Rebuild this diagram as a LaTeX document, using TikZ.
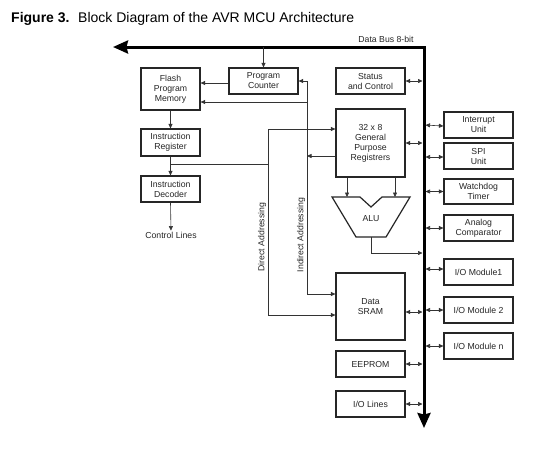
\documentclass[tikz,border=0pt]{standalone}
\usepackage{fontspec}
\setmainfont{Liberation Sans}
\usetikzlibrary{arrows.meta}
\begin{document}
\begin{tikzpicture}[x=1pt,y=-1pt,
 blk/.style={draw=black!85, line width=1.2pt, align=center, font=\fontsize{8.7}{10}\selectfont, inner sep=0pt, text=black!85},
 arr/.style={line width=0.6pt, draw=black!80, -{Triangle[length=4.5pt,width=4pt]}},
 bidir/.style={line width=0.6pt, draw=black!80, {Triangle[length=4.5pt,width=4pt]}-{Triangle[length=4.5pt,width=4pt]}},
 wire/.style={line width=0.6pt, draw=black!80},
 lbl/.style={font=\fontsize{8.7}{10}\selectfont, inner sep=0pt, text=black!85},
 busline/.style={line width=3pt, {Stealth[length=15pt,width=13pt,inset=1.5pt]}-{Stealth[length=15pt,width=13pt,inset=1.5pt]}}]
\useasboundingbox (0,0) rectangle (540,448);
\fill[white] (0,0) rectangle (540,448);

% title
\node[anchor=base west, inner sep=0pt, font=\fontsize{14}{16}\selectfont\bfseries] (fig) at (11,22) {Figure 3.};
\node[anchor=base west, inner sep=0pt, font=\fontsize{14}{16}\selectfont] (ttl) at (78,22) {Block Diagram of the AVR MCU Architecture};

% bus
\coordinate (busL) at (113,47);
\coordinate (busC) at (424,47);
\coordinate (busB) at (424,428);
\draw[busline] (busL) -- (busC) -- (busB);
\node[lbl] (buslbl) at (386,39) {Data Bus 8-bit};

% blocks
\node[blk, minimum width=59pt, minimum height=42pt] (flash) at (170.5,89) {Flash\\Program\\Memory};
\node[blk, minimum width=69pt, minimum height=26pt] (pc) at (263.5,81) {Program\\Counter};
\node[blk, minimum width=69pt, minimum height=26pt] (status) at (370.5,81) {Status\\and Control};
\node[blk, minimum width=69pt, minimum height=68pt] (regs) at (370.5,143) {32 x 8\\General\\Purpose\\Registrers};
\node[blk, minimum width=59pt, minimum height=27pt] (ir) at (170.5,142.5) {Instruction\\Register};
\node[blk, minimum width=59pt, minimum height=26pt] (dec) at (170.5,189) {Instruction\\Decoder};
\node[lbl] (ctl) at (171,235) {Control Lines};

\node[blk, minimum width=69pt, minimum height=26pt] (int) at (478.5,125) {Interrupt\\Unit};
\node[blk, minimum width=69pt, minimum height=26pt] (spi) at (478.5,156) {SPI\\Unit};
\node[blk, minimum width=69pt, minimum height=25pt] (wdt) at (478.5,191.5) {Watchdog\\Timer};
\node[blk, minimum width=69pt, minimum height=26pt] (ana) at (478.5,228) {Analog\\Comparator};
\node[blk, minimum width=69pt, minimum height=26pt] (io1) at (478.5,272) {I/O Module1};
\node[blk, minimum width=69pt, minimum height=26pt] (io2) at (478.5,310) {I/O Module 2};
\node[blk, minimum width=69pt, minimum height=26pt] (ion) at (478.5,346) {I/O Module n};

\node[blk, minimum width=69pt, minimum height=67pt] (sram) at (370.5,306.5) {Data\\SRAM};
\node[blk, minimum width=69pt, minimum height=26pt] (eeprom) at (370.5,364) {EEPROM};
\node[blk, minimum width=69pt, minimum height=26pt] (iol) at (370.5,404) {I/O Lines};

% ALU
\draw[line width=1.2pt, draw=black!85, line join=miter] (332,197) -- (360,197) -- (371,207) -- (382,197) -- (410,197) -- (386,237) -- (356,237) -- cycle;
\node[lbl] (alu) at (371,219) {ALU};

% bus connections
\draw[arr] (pc.north |- busC) -- (pc.north);
\draw[bidir, shorten >=1.5pt] (status.east) -- (status.east -| busC);
\draw[bidir, shorten >=1.5pt] (regs.east) -- (regs.east -| busC);
\draw[bidir, shorten >=1.5pt] ([yshift=-5.5pt]sram.east) -- ([yshift=-5.5pt]sram.east -| busC);
\draw[bidir, shorten >=1.5pt] (eeprom.east) -- (eeprom.east -| busC);
\draw[bidir, shorten >=1.5pt] (iol.east) -- (iol.east -| busC);
\draw[bidir, shorten <=1.5pt] (int.west -| busC) -- ([yshift=-1pt]int.west);
\draw[bidir, shorten <=1.5pt] ([yshift=-1pt]spi.west -| busC) -- ([yshift=-1pt]spi.west);
\draw[bidir, shorten <=1.5pt] (wdt.west -| busC) -- (wdt.west);
\draw[bidir, shorten <=1.5pt] (ana.west -| busC) -- (ana.west);
\draw[bidir, shorten <=1.5pt] ([yshift=3pt]io1.west -| busC) -- ([yshift=3pt]io1.west);
\draw[bidir, shorten <=1.5pt] (io2.west -| busC) -- (io2.west);
\draw[bidir, shorten <=1.5pt] (ion.west -| busC) -- (ion.west);

% program flow
\draw[arr] ([yshift=-2pt]pc.west) -- ([yshift=-2pt]pc.west -| flash.east);
\draw[arr] (flash.south) -- (ir.north);
\draw[arr] (ir.south) -- (dec.north);
\draw[arr, shorten >=1pt] (dec.south) -- (ctl.north);

% direct addressing
\coordinate (dT) at (268,129);
\coordinate (dB) at (268,315);
\coordinate (irj) at (170.5,164);
\draw[wire] (irj) -- (irj -| dT);
\draw[arr] (dT) -- (dT -| regs.west);
\draw[arr] (dT) -- (dB) -- (dB -| sram.west);
\node[lbl, rotate=90] (dlab) at (262,237) {Direct Addressing};

% indirect addressing
\coordinate (iT) at (307,81);
\coordinate (iB) at (307,294);
\coordinate (iF) at (307,102);
\coordinate (iR) at (307,156);
\draw[arr] (iB) -- (iT) -- (pc.east);
\draw[arr] (iB) -- (iB -| sram.west);
\draw[arr] (iF) -- (iF -| flash.east);
\draw[arr] (iR -| regs.west) -- (iR);
\node[lbl, rotate=90] (ilab) at (301,235) {Indirect Addressing};

% ALU connections
\coordinate (a1) at (347,197);
\coordinate (a2) at (395,197);
\draw[arr] (regs.south -| a1) -- (a1);
\draw[arr] (regs.south -| a2) -- (a2);
\coordinate (ao) at (371,237);
\coordinate (aoc) at (371,253);
\draw[arr, shorten >=1.5pt] (ao) -- (aoc) -- (aoc -| busC);
\end{tikzpicture}
\end{document}
